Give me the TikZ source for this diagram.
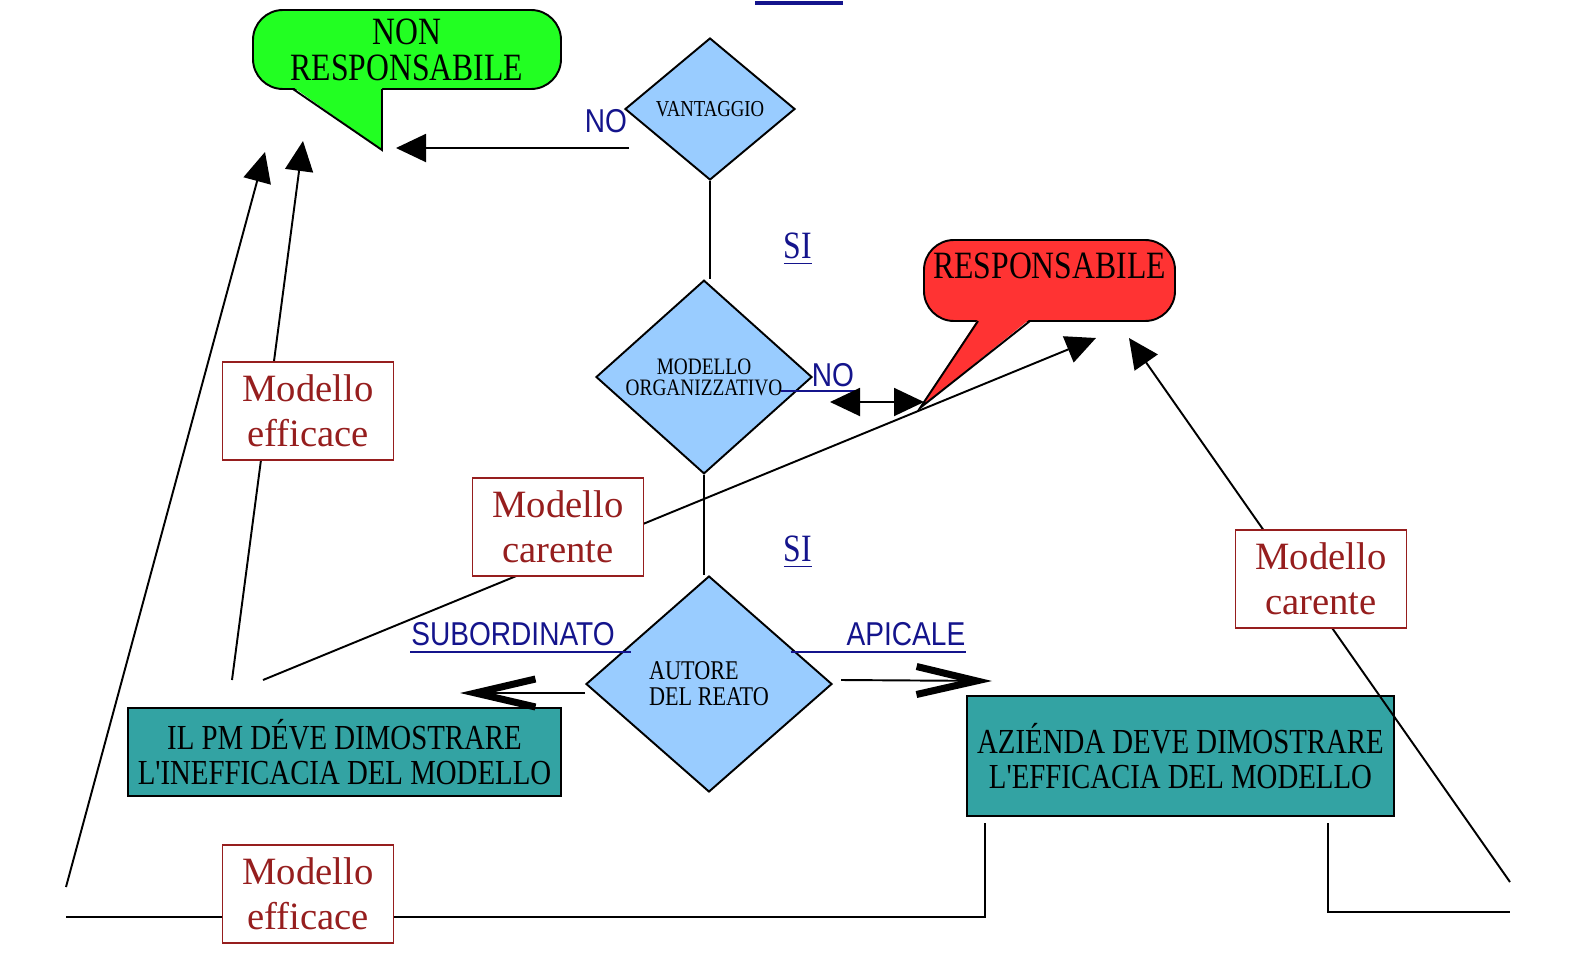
\documentclass[tikz,border=0pt]{standalone}
\usepackage{fontspec}
\setmainfont{Liberation Serif}
\newfontfamily\narrowserif[FakeStretch=0.82]{Liberation Serif}
\newfontfamily\narrowsans[FakeStretch=0.85]{Liberation Sans}
\usetikzlibrary{calc, shapes.geometric, arrows.meta}

\definecolor{okgreen}{HTML}{22FF22}
\definecolor{kored}{HTML}{FF3333}
\definecolor{rombofill}{HTML}{99CCFF}
\definecolor{tealbox}{HTML}{33A3A3}
\definecolor{linkblue}{HTML}{14148C}
\definecolor{darkred}{HTML}{961E1E}

\tikzset{
  rombo/.style={diamond, draw, fill=rombofill, inner sep=0pt},
  esito/.style={draw, fill=tealbox, align=center, inner sep=0pt, font=\narrowserif\fontsize{10}{9.8}\selectfont},
  modello/.style={draw=darkred, text=darkred, fill=white, minimum width=1.71cm, minimum height=0.98cm, align=center, inner sep=0pt, font=\fontsize{11}{12.8}\selectfont},
  fumetto/.style={draw, rounded corners=0.3cm, align=center, inner sep=0pt, font=\narrowserif\fontsize{11}{10.3}\selectfont},
  etichetta/.style={text=linkblue, inner sep=0pt, font=\narrowsans\fontsize{9.4}{10}\selectfont},
  sietichetta/.style={text=linkblue, inner sep=0pt, font=\narrowserif\fontsize{11}{11}\selectfont},
  freccia/.style={-{Triangle[length=0.3cm, width=0.28cm]}},
  punta/.style={-{Straight Barb[length=0.6cm, width=0.28cm, line width=2pt]}},
}

\begin{document}
\begin{tikzpicture}[line width=0.55pt]
\useasboundingbox (0,0) rectangle (15.84,-9.58);

\draw[linkblue, line width=1pt] (7.55,-0.03) -- (8.43,-0.03);

\node[fumetto, fill=okgreen, minimum width=3.08cm, minimum height=0.79cm] (nonresp) at (4.07,-0.495) {NON\\RESPONSABILE};
\fill[okgreen] (2.93,-0.87) -- (3.82,-0.87) -- (3.82,-1.50) -- cycle;
\draw (2.93,-0.89) -- (3.82,-1.50) -- (3.82,-0.89);

\node[fumetto, fill=kored, minimum width=2.51cm, text height=0.37cm, text depth=0.41cm, inner ysep=0.015cm] (resp) at (10.495,-2.805) {RESPONSABILE};
\fill[kored] (9.78,-3.19) -- (10.30,-3.19) -- (9.20,-4.08) -- cycle;
\draw (9.78,-3.21) -- (9.20,-4.08) -- (10.30,-3.21);

\node[rombo, minimum width=1.70cm, minimum height=1.42cm, font=\narrowserif\fontsize{6.5}{6}\selectfont] (vant) at (7.10,-1.09) {VANTAGGIO};
\node[rombo, minimum width=2.16cm, minimum height=1.88cm, align=center, font=\narrowserif\fontsize{6.7}{6}\selectfont] (modorg) at (7.04,-3.77) {MODELLO\\ORGANIZZATIVO};
\node[rombo, minimum width=2.46cm, minimum height=2.16cm, align=left, font=\narrowserif\fontsize{7.7}{7.4}\selectfont] (autore) at (7.09,-6.84) {AUTORE\\DEL REATO};

\node[esito, minimum width=4.33cm, minimum height=0.88cm] (pm) at (3.445,-7.52) {IL PM DÉVE DIMOSTRARE\\L'INEFFICACIA DEL MODELLO};
\node[esito, minimum width=4.27cm, minimum height=1.20cm] (azienda) at (11.805,-7.56) {AZIÉNDA DEVE DIMOSTRARE\\L'EFFICACIA DEL MODELLO};

\node[etichetta] (no1) at (6.06,-1.21) {NO};
\node[etichetta] (no2) at (8.33,-3.75) {NO};
\draw[linkblue] ($(no2.south west)+(-0.30,-0.03)$) -- ($(no2.south east)+(0.02,-0.03)$);
\node[sietichetta] (si1) at (7.98,-2.49) {\underline{SI}};
\node[sietichetta] (si2) at (7.98,-5.52) {\underline{SI}};
\node[etichetta] (sub) at (5.13,-6.34) {SUBORDINATO};
\draw[linkblue] ($(sub.south west)+(0,-0.05)$) -- ($(sub.south east)+(0.15,-0.05)$);
\node[etichetta] (apic) at (9.06,-6.34) {APICALE};
\draw[linkblue] ($(apic.south west)+(-0.55,-0.05)$) -- ($(apic.south east)+(0,-0.05)$);

\coordinate (vantout) at (6.29,-1.48);
\coordinate (nonA) at (3.96,-1.48);
\coordinate (nonB) at (2.65,-1.52);
\coordinate (nonC) at (3.03,-1.41);
\coordinate (respA) at (10.96,-3.38);
\coordinate (respB) at (11.29,-3.38);
\coordinate (pmA) at (2.32,-6.80);
\coordinate (pmB) at (2.63,-6.80);
\coordinate (fondoL) at (0.66,-8.87);
\coordinate (fondoR) at (15.10,-8.82);
\coordinate (azL) at (9.85,-8.23);
\coordinate (azR) at (13.28,-8.23);

\draw[freccia] (vantout) -- (nonA);
\draw (vant.south) -- (vant.south |- modorg.north);
\draw (modorg.south) -- (modorg.south |- autore.north);
\draw[{Triangle[length=0.3cm, width=0.28cm]}-{Triangle[length=0.3cm, width=0.28cm]}] (8.30,-4.02) -- (9.24,-4.02);
\draw[punta] (autore.west |- 0,-6.93) -- (4.60,-6.93);
\draw[punta] (8.41,-6.80) -- (9.92,-6.81);

\draw[freccia] (pmA) -- (nonC);
\draw[freccia] (pmB) -- (respA);
\draw[freccia] (fondoL) -- (nonB);
\draw[freccia] (fondoR) -- (respB);
\draw (azL) -- (9.85,-9.17) -- (0.66,-9.17);
\draw (azR) -- (13.28,-9.12) -- (15.10,-9.12);

\node[modello] (eff1) at (3.08,-4.11) {Modello\\efficace};
\node[modello] (car1) at (5.58,-5.27) {Modello\\carente};
\node[modello] (car2) at (13.21,-5.79) {Modello\\carente};
\node[modello] (eff2) at (3.08,-8.94) {Modello\\efficace};
\end{tikzpicture}
\end{document}
